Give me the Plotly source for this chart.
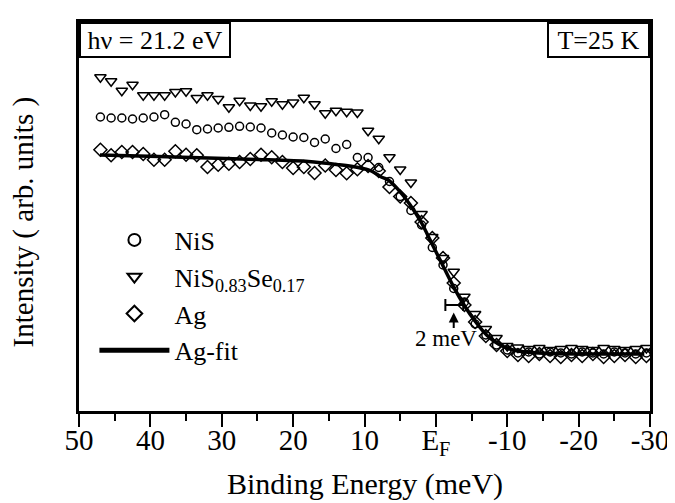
import plotly.graph_objects as go

# ---- data ----
energy = [47.0, 45.5, 44.0, 42.5, 41.0, 39.5, 38.0, 36.5, 35.0, 33.5,
          32.0, 30.5, 29.0, 27.5, 26.0, 24.5, 23.0, 21.5, 20.0, 18.5,
          17.0, 15.5, 14.0, 12.5, 11.0, 9.5, 8.0, 6.5, 5.0, 3.5,
          2.0, 0.5, -1.0, -2.5, -4.0, -5.5, -7.0, -8.5, -10.0, -11.5,
          -13.0, -14.5, -16.0, -17.5, -19.0, -20.5, -22.0, -23.5, -25.0, -26.5,
          -28.0, -29.5]

nis = [29.4, 29.3, 29.3, 29.2, 29.3, 29.4, 29.63, 28.87, 28.7, 28.13,
       28.2, 28.3, 28.37, 28.47, 28.4, 28.3, 27.8, 27.6, 27.4, 27.35,
       26.85, 27.2, 26.25, 26.65, 25.35, 25.35, 24.35, 22.95, 21.45, 20.05,
       18.6, 16.35, 14.6, 12.25, 10.9, 8.7, 7.6, 6.6, 6.1, 5.8,
       5.9, 5.7, 5.9, 5.8, 5.7, 5.9, 5.8, 5.7, 5.9, 5.8,
       5.7, 5.8]

nisse = [33.37, 32.97, 32.03, 32.63, 31.57, 31.57, 31.57, 31.9, 31.97, 31.3,
         31.57, 31.2, 30.37, 31.03, 30.55, 30.47, 30.97, 30.67, 30.85, 31.33,
         30.67, 29.77, 30.03, 29.93, 29.85, 28.03, 27.22, 25.37, 24.15, 22.85,
         19.7, 17.4, 15.3, 13.93, 11.42, 9.7, 8.2, 7.3, 6.5, 6.35,
         6.2, 6.3, 6.1, 6.2, 6.3, 6.2, 6.1, 6.3, 6.2, 6.1,
         6.2, 6.3]

ag = [26.13, 25.57, 25.9, 25.9, 25.7, 25.13, 25.13, 25.97, 25.63, 25.57,
      24.4, 24.63, 24.73, 24.9, 25.2, 25.63, 25.37, 24.9, 24.3, 24.4,
      23.8, 24.55, 24.1, 23.77, 24.17, 24.5, 24.0, 22.4, 21.45, 20.8,
      18.9, 17.3, 15.3, 12.8, 10.6, 8.9, 7.5, 6.6, 6.0, 5.6,
      5.5, 5.7, 5.5, 5.4, 5.6, 5.5, 5.7, 5.4, 5.5, 5.6,
      5.4, 5.5]

fit_x = [47.06, 38.89, 31.88, 24.88, 17.87, 13.67, 10.87, 9.05, 7.65, 6.67,
         5.27, 3.62, 2.0, 0.6, -0.8, -2.44, -4.08, -5.48, -7.11, -8.75,
         -10.85, -14.35, -29.2]
fit_y = [25.6, 25.45, 25.3, 25.15, 24.95, 24.63, 24.35, 24.0, 23.4, 23.1,
         22.13, 20.63, 18.8, 16.8, 14.8, 12.47, 10.45, 9.0, 7.6, 6.7,
         6.1, 5.8, 5.7]

tick_vals = [50, 40, 30, 20, 10, 0, -10, -20, -30]
tick_text = ["50", "40", "30", "20", "10", "E<sub>F</sub>", "-10", "-20", "-30"]

scale_bar_x = [-2.58]
scale_bar_y = [10.6]
scale_bar_half = [1.25]

FONT = "Liberation Serif"

fig = go.Figure()
mk_line = dict(color="black", width=1.5)
fig.add_trace(go.Scatter(x=energy, y=nis, mode="markers", name="NiS",
                         marker=dict(symbol="circle-open", size=8, color="black", line=mk_line)))
fig.add_trace(go.Scatter(x=energy, y=nisse, mode="markers",
                         name="NiS<sub>0.83</sub>Se<sub>0.17</sub>",
                         marker=dict(symbol="triangle-down-open", size=10, color="black", line=mk_line)))
fig.add_trace(go.Scatter(x=energy, y=ag, mode="markers", name="Ag",
                         marker=dict(symbol="diamond-open", size=10, color="black", line=mk_line)))
fig.add_trace(go.Scatter(x=fit_x, y=fit_y, mode="lines", name="Ag-fit",
                         line=dict(color="black", width=3.5, shape="spline", smoothing=0.8)))
fig.add_trace(go.Scatter(x=scale_bar_x, y=scale_bar_y, mode="markers", showlegend=False,
                         marker=dict(size=1, color="rgba(0,0,0,0)"),
                         error_x=dict(type="data", array=scale_bar_half, symmetric=True,
                                      width=6, thickness=2, color="black")))

fig.update_layout(
    width=675, height=503,
    margin=dict(l=71, r=33, t=14, b=100),
    paper_bgcolor="white", plot_bgcolor="white",
    font=dict(family=FONT, color="black", size=26),
    showlegend=True,
    legend=dict(x=0.027, y=0.50, xanchor="left", yanchor="top",
                bgcolor="rgba(0,0,0,0)", font=dict(family=FONT, size=26),
                itemsizing="constant", itemwidth=70, tracegroupgap=0),
    xaxis=dict(range=[50, -30], showgrid=False, zeroline=False,
               showline=True, linecolor="black", linewidth=2.5, mirror=True,
               ticks="outside", ticklen=13, tickwidth=2, tickcolor="black",
               tickvals=tick_vals, ticktext=tick_text, ticklabelstandoff=-12,
               tickfont=dict(family=FONT, size=29),
               minor=dict(dtick=5, ticks="outside", ticklen=7, tickwidth=2, tickcolor="black")),
    yaxis=dict(range=[0, 38.9], showgrid=False, zeroline=False,
               showline=True, linecolor="black", linewidth=2.5, mirror=True,
               showticklabels=False, ticks=""),
    annotations=[
        dict(xref="paper", yref="paper", x=0, y=1, xanchor="left", yanchor="top",
             text="hν = 21.2 eV", showarrow=False, font=dict(family=FONT, size=26),
             bordercolor="black", borderwidth=2, borderpad=2, width=144, height=28,
             bgcolor="white"),
        dict(xref="paper", yref="paper", x=1, y=1, xanchor="right", yanchor="top",
             text="T=25 K", showarrow=False, font=dict(family=FONT, size=26),
             bordercolor="black", borderwidth=2, borderpad=2, width=95, height=28,
             bgcolor="white"),
        dict(xref="x", yref="y", x=-2.5, y=9.85, text="", showarrow=True,
             arrowhead=2, arrowsize=1, arrowwidth=2, arrowcolor="black", ax=0, ay=17),
        dict(xref="x", yref="y", x=-1.36, y=7.3, text="2 meV", showarrow=False,
             font=dict(family=FONT, size=23)),
        dict(xref="paper", yref="paper", x=-0.098, y=0.485, xanchor="center", yanchor="middle",
             text="Intensity ( arb. units )",
             textangle=-90, showarrow=False, font=dict(family=FONT, size=29)),
        dict(xref="paper", yref="paper", x=0.5, y=-0.188, xanchor="center", yanchor="middle",
             text="Binding Energy (meV)",
             showarrow=False, font=dict(family=FONT, size=30)),
    ],
)

fig.write_html("out.html")
